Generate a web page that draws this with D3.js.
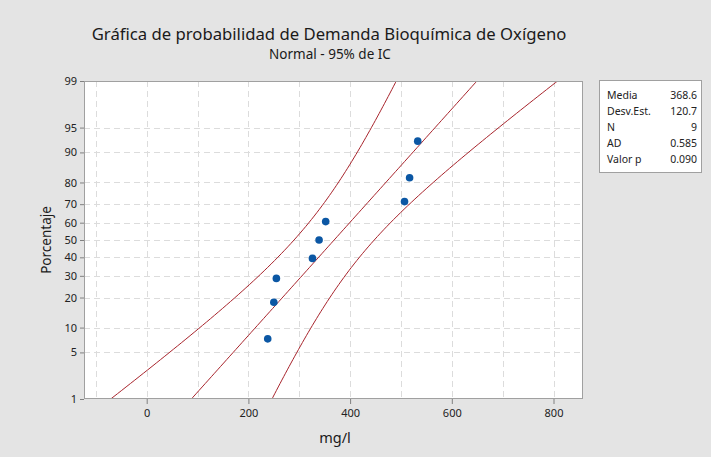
<!DOCTYPE html>
<html>
<head>
<meta charset="utf-8">
<script src="https://cdn.jsdelivr.net/npm/d3@7"></script>
<style>
  body { margin: 0; background: #e4e4e4; }
  svg { display: block; font-family: "Noto Sans", "Open Sans", sans-serif; }
</style>
</head>
<body>
<div id="chart"></div>
<script>
// Data
const values = [238, 250, 255, 326, 339, 352, 507, 517, 533];   // mg/l, sorted
const percents = [7.4, 18.1, 28.7, 39.4, 50, 60.6, 71.3, 81.9, 92.6];
const xTicks = [0, 200, 400, 600, 800];
const xGrid = [-100, 0, 100, 200, 300, 400, 500, 600, 700, 800];
const yTicks = [1, 5, 10, 20, 30, 40, 50, 60, 70, 80, 90, 95, 99];
const statLabels = ["Media", "Desv.Est.", "N", "AD", "Valor p"];
const statValues = ["368.6", "120.7", "9", "0.585", "0.090"];

const mean = 368.6, sd = 120.7, n = 9;

// inverse normal CDF (Acklam)
function qnorm(p) {
  const a = [-39.6968302866538, 220.946098424521, -275.928510446969, 138.357751867269, -30.6647980661472, 2.50662827745924];
  const b = [-54.4760987982241, 161.585836858041, -155.698979859887, 66.8013118877197, -13.2806815528857];
  const c = [-0.00778489400243029, -0.322396458041136, -2.40075827716184, -2.54973253934373, 4.37466414146497, 2.93816398269878];
  const d = [0.00778469570904146, 0.32246712907004, 2.445134137143, 3.75440866190742];
  const pl = 0.02425;
  let q, r;
  if (p < pl) {
    q = Math.sqrt(-2 * Math.log(p));
    return (((((c[0]*q+c[1])*q+c[2])*q+c[3])*q+c[4])*q+c[5]) / ((((d[0]*q+d[1])*q+d[2])*q+d[3])*q+1);
  } else if (p <= 1 - pl) {
    q = p - 0.5; r = q * q;
    return (((((a[0]*r+a[1])*r+a[2])*r+a[3])*r+a[4])*r+a[5])*q / (((((b[0]*r+b[1])*r+b[2])*r+b[3])*r+b[4])*r+1);
  } else {
    q = Math.sqrt(-2 * Math.log(1 - p));
    return -(((((c[0]*q+c[1])*q+c[2])*q+c[3])*q+c[4])*q+c[5]) / ((((d[0]*q+d[1])*q+d[2])*q+d[3])*q+1);
  }
}

const width = 711, height = 457;
const plot = { left: 84, right: 583, top: 81, bottom: 399 };

const svg = d3.select("#chart").append("svg")
  .attr("width", width)
  .attr("height", height);

svg.append("rect").attr("width", width).attr("height", height).attr("fill", "#e4e4e4");

const x = d3.scaleLinear().domain([-123.3, 858]).range([plot.left, plot.right]);
const y = d3.scaleLinear().domain([qnorm(0.01), qnorm(0.99)]).range([plot.bottom, plot.top]);

// plot area
svg.append("rect")
  .attr("x", plot.left).attr("y", plot.top)
  .attr("width", plot.right - plot.left).attr("height", plot.bottom - plot.top)
  .attr("fill", "#fff");

svg.append("defs").append("clipPath").attr("id", "clip")
  .append("rect")
  .attr("x", plot.left).attr("y", plot.top)
  .attr("width", plot.right - plot.left).attr("height", plot.bottom - plot.top);

// grid
const grid = svg.append("g").attr("stroke", "#dcdcdc").attr("stroke-dasharray", "6,4").attr("stroke-width", 1);
grid.selectAll(".vg").data(xGrid).enter().append("line")
  .attr("x1", d => Math.round(x(d)) + 0.5).attr("x2", d => Math.round(x(d)) + 0.5)
  .attr("y1", plot.top).attr("y2", plot.bottom);
grid.selectAll(".hg").data(yTicks.filter(d => d > 1 && d < 99)).enter().append("line")
  .attr("y1", d => Math.round(y(qnorm(d / 100))) + 0.5).attr("y2", d => Math.round(y(qnorm(d / 100))) + 0.5)
  .attr("x1", plot.left).attr("x2", plot.right);

// fitted line and 95% CI bands
const zs = d3.range(-3.2, 3.2001, 0.05);
const half = z => 1.96 * sd * Math.sqrt(1 / n + z * z / (2 * (n - 1)));
const curves = [
  zs.map(z => [mean + z * sd - half(z), z]),
  zs.map(z => [mean + z * sd, z]),
  zs.map(z => [mean + z * sd + half(z), z])
];
const line = d3.line().x(d => x(d[0])).y(d => y(d[1]));
svg.append("g").attr("clip-path", "url(#clip)")
  .selectAll("path").data(curves).enter().append("path")
  .attr("d", line)
  .attr("fill", "none")
  .attr("stroke", "#a8242c")
  .attr("stroke-width", 1);

// points
svg.append("g").selectAll("circle")
  .data(values.map((v, i) => [v, percents[i]]))
  .enter().append("circle")
  .attr("cx", d => x(d[0]))
  .attr("cy", d => y(qnorm(d[1] / 100)))
  .attr("r", 3.8)
  .attr("fill", "#0b57a4");

// frame
svg.append("rect")
  .attr("x", plot.left + 0.5).attr("y", plot.top + 0.5)
  .attr("width", plot.right - plot.left - 1).attr("height", plot.bottom - plot.top - 1)
  .attr("fill", "none").attr("stroke", "#a0a0a0");

// axes
const xAxis = d3.axisBottom(x).tickValues(xTicks).tickSize(5).tickPadding(5);
const gx = svg.append("g").attr("transform", `translate(0,${plot.bottom})`).call(xAxis);
const yAxis = d3.axisLeft(y).tickValues(yTicks.map(d => qnorm(d / 100)))
  .tickFormat((d, i) => yTicks[i]).tickSize(4).tickPadding(3);
const gy = svg.append("g").attr("transform", `translate(${plot.left},0)`).call(yAxis);
[gx, gy].forEach(g => {
  g.select(".domain").remove();
  g.selectAll(".tick line").attr("stroke", "#808080");
  g.selectAll("text").attr("fill", "#222").style("font-size", "11px").style("font-family", "Noto Sans, sans-serif");
});

// titles
svg.append("text").attr("x", 329).attr("y", 40).attr("text-anchor", "middle")
  .style("font-size", "16.7px").attr("fill", "#1a1a1a")
  .text("Gráfica de probabilidad de Demanda Bioquímica de Oxígeno");
svg.append("text").attr("x", 330).attr("y", 59).attr("text-anchor", "middle")
  .style("font-size", "13.5px").attr("fill", "#1a1a1a")
  .text("Normal - 95% de IC");
svg.append("text").attr("x", 335).attr("y", 443).attr("text-anchor", "middle")
  .style("font-size", "14.5px").attr("fill", "#1a1a1a").text("mg/l");
svg.append("text").attr("transform", "translate(51,240) rotate(-90)").attr("text-anchor", "middle")
  .style("font-size", "13.5px").attr("fill", "#1a1a1a").text("Porcentaje");

// stats box
const box = svg.append("g");
box.append("rect").attr("x", 599.5).attr("y", 80.5).attr("width", 102).attr("height", 92)
  .attr("fill", "#fff").attr("stroke", "#a0a0a0");
statLabels.forEach((s, i) => {
  box.append("text").attr("x", 607).attr("y", 99 + i * 16)
    .style("font-size", "10.5px").attr("fill", "#222").text(s);
  box.append("text").attr("x", 697).attr("y", 99 + i * 16).attr("text-anchor", "end")
    .style("font-size", "10.5px").attr("fill", "#222").text(statValues[i]);
});
</script>
</body>
</html>
